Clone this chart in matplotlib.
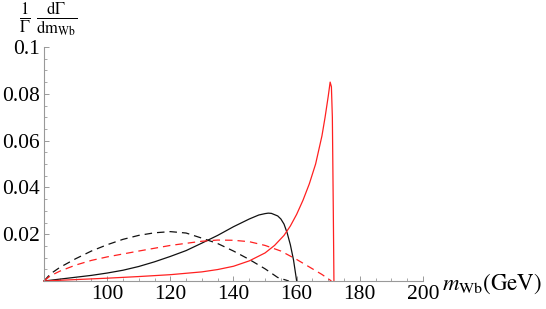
import matplotlib
matplotlib.use("Agg")
import matplotlib.pyplot as plt
from matplotlib.ticker import MultipleLocator, FixedLocator
import numpy as np

plt.rcParams['font.family'] = ['Liberation Serif', 'DejaVu Serif']
plt.rcParams['mathtext.fontset'] = 'stix'

# Black solid
m_bs = [80, 85, 90, 95, 100, 105, 110, 115, 120, 125, 130, 135, 140, 145, 148, 150, 151, 152, 154, 155, 156, 157, 158, 159, 160]
v_bs = [0, 0.0008, 0.0016, 0.0024, 0.0034, 0.0046, 0.0062, 0.0082, 0.0105, 0.013, 0.0162, 0.0195, 0.0232, 0.0265, 0.0282, 0.0288, 0.029, 0.0289, 0.0278, 0.0265, 0.0243, 0.0205, 0.0155, 0.009, 0]
# Black dashed
m_bd = [80, 82, 85, 90, 95, 100, 105, 110, 115, 120, 125, 130, 135, 140, 145, 150, 154, 157.5]
v_bd = [0, 0.003, 0.0058, 0.0095, 0.0128, 0.0155, 0.0178, 0.0195, 0.0206, 0.0211, 0.0205, 0.0183, 0.016, 0.0128, 0.0092, 0.0052, 0.0015, 0]
# Red dashed
m_rd = [80, 82, 85, 90, 95, 100, 110, 120, 130, 135, 140, 145, 150, 155, 160, 165, 168, 171]
v_rd = [0, 0.0022, 0.0042, 0.0068, 0.0088, 0.0103, 0.0128, 0.0152, 0.017, 0.0175, 0.0174, 0.0168, 0.0152, 0.0128, 0.0092, 0.0052, 0.0028, 0]
# Red solid
m_rs = [80, 90, 100, 110, 120, 130, 135, 140, 145, 150, 153, 156, 158, 160, 162, 164, 166, 168, 169, 170, 170.6, 171, 171.3, 171.6, 171.8]
v_rs = [0, 0.0006, 0.0012, 0.0019, 0.0027, 0.0039, 0.0049, 0.0063, 0.0086, 0.012, 0.0152, 0.0195, 0.0235, 0.0285, 0.0345, 0.0415, 0.05, 0.062, 0.07, 0.079, 0.085, 0.083, 0.07, 0.03, 0]

x_major = [100, 120, 140, 160, 180, 200]
y_major = [0.02, 0.04, 0.06, 0.08, 0.1]
y_labels = ['0.02', '0.04', '0.06', '0.08', '0.1']

W, H = 546, 309
fig = plt.figure(figsize=(W/100, H/100), dpi=100)
l, r, t, b = 44, 423, 47, 281
ax = fig.add_axes([l/W, 1-b/H, (r-l)/W, (b-t)/H])

lw = 0.9
ax.plot(m_bs, v_bs, color='#111111', lw=lw, clip_on=False)
ax.plot(m_bd, v_bd, color='#111111', lw=lw, ls=(0, (6, 4)), clip_on=False)
ax.plot(m_rd, v_rd, color='#ff2020', lw=lw, ls=(0, (6, 4)), clip_on=False)
ax.plot(m_rs, v_rs, color='#ff2020', lw=lw, clip_on=False)

ax.set_xlim(80, 200)
ax.set_ylim(0, 0.1)
for s in ['top', 'right']:
    ax.spines[s].set_visible(False)
for s in ['left', 'bottom']:
    ax.spines[s].set_color('#999999')
    ax.spines[s].set_linewidth(0.8)

ax.xaxis.set_major_locator(FixedLocator(x_major))
ax.xaxis.set_minor_locator(MultipleLocator(5))
ax.yaxis.set_major_locator(FixedLocator(y_major))
ax.yaxis.set_minor_locator(MultipleLocator(0.005))
ax.set_xticklabels([str(v) for v in x_major])
ax.set_yticklabels(y_labels)
ax.tick_params(which='major', direction='in', length=3.6, width=0.7, color='#999999', labelsize=15.5, pad=3)
ax.tick_params(which='minor', direction='in', length=2.2, width=0.6, color='#999999')
ax.tick_params(axis='x', pad=3)

fig.text(442/W, 1-284/H, r'$m_{\mathrm{Wb}}\mathrm{(GeV)}$', fontsize=16.5, ha='left', va='center')
fig.text(48/W, 1-19/H, r'$\frac{1}{\Gamma}\;\frac{\mathrm{d}\Gamma}{\mathrm{dm}_{\mathrm{Wb}}}$', fontsize=17, ha='center', va='center')

fig.savefig('out.png', dpi=100)
